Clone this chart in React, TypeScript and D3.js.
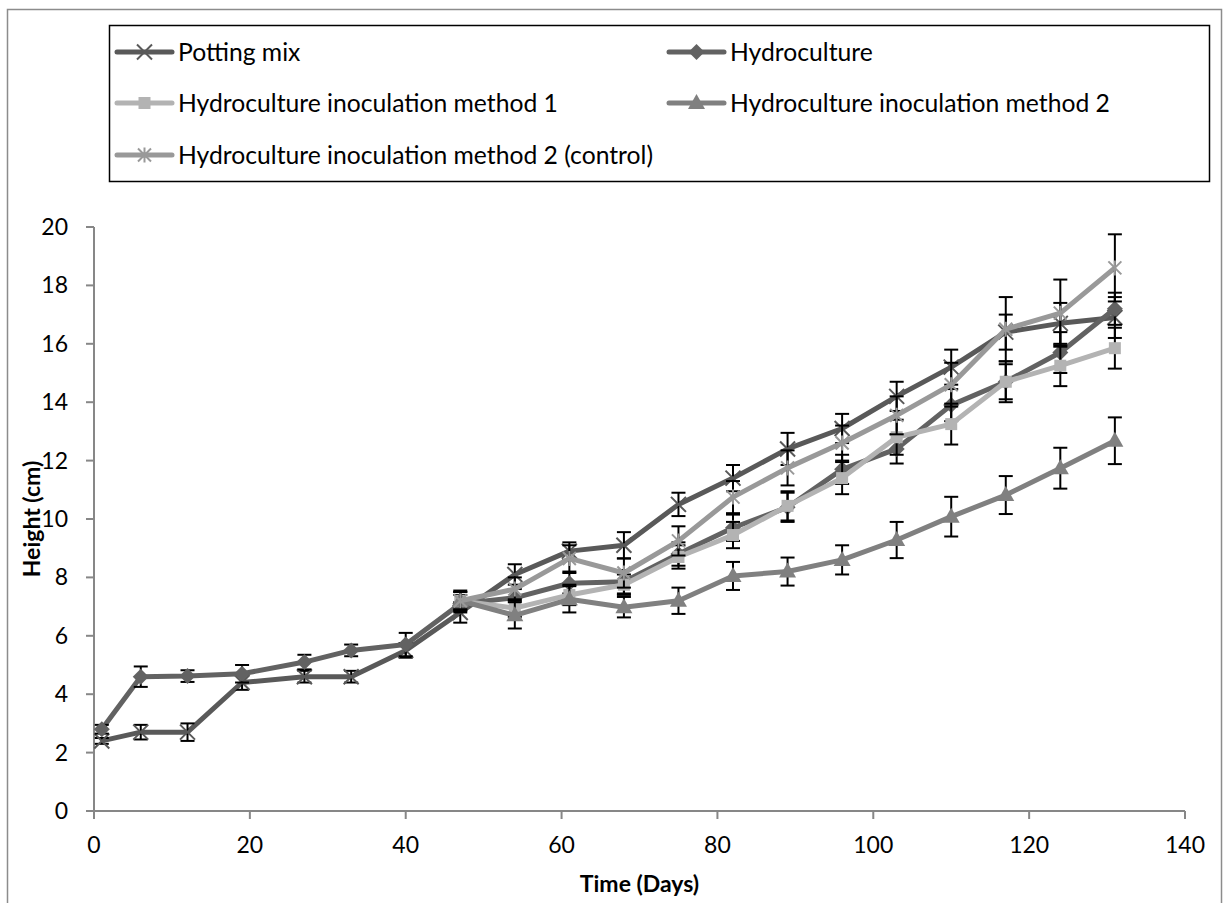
import React from "react";
import * as d3 from "d3";

const daysAll = [1, 6, 12, 19, 27, 33, 40, 47, 54, 61, 68, 75, 82, 89, 96, 103, 110, 117, 124, 131];
const daysLate = [47, 54, 61, 68, 75, 82, 89, 96, 103, 110, 117, 124, 131];

const pottingMix = [2.4, 2.7, 2.7, 4.4, 4.6, 4.6, 5.5, 6.8, 8.1, 8.9, 9.1, 10.5, 11.4, 12.4, 13.1, 14.2, 15.2, 16.4, 16.7, 16.9];
const pottingMixErr = [0.1, 0.25, 0.3, 0.25, 0.2, 0.2, 0.25, 0.35, 0.35, 0.3, 0.45, 0.4, 0.45, 0.55, 0.5, 0.5, 0.6, 0.6, 0.7, 0.7];

const hydroculture = [2.8, 4.6, 4.62, 4.7, 5.1, 5.5, 5.7, 7.1, 7.3, 7.8, 7.85, 8.8, 9.7, 10.4, 11.7, 12.4, 13.9, 14.7, 15.7, 17.2];
const hydrocultureErr = [0.15, 0.35, 0.2, 0.3, 0.25, 0.2, 0.4, 0.3, 0.3, 0.35, 0.4, 0.4, 0.45, 0.5, 0.5, 0.5, 0.55, 0.6, 0.7, 0.55];

const method1 = [7.2, 6.95, 7.4, 7.75, 8.7, 9.45, 10.45, 11.4, 12.8, 13.25, 14.7, 15.25, 15.85];
const method1Err = [0.3, 0.3, 0.35, 0.35, 0.4, 0.45, 0.5, 0.55, 0.6, 0.7, 0.7, 0.7, 0.7];

const method2 = [7.2, 6.7, 7.25, 6.98, 7.2, 8.05, 8.2, 8.6, 9.28, 10.08, 10.82, 11.74, 12.68];
const method2Err = [0.3, 0.45, 0.45, 0.35, 0.45, 0.48, 0.48, 0.5, 0.62, 0.68, 0.65, 0.7, 0.8];

const control = [7.2, 7.6, 8.65, 8.15, 9.25, 10.75, 11.75, 12.6, 13.55, 14.6, 16.5, 17.05, 18.6];
const controlErr = [0.35, 0.4, 0.45, 0.5, 0.5, 0.55, 0.6, 0.6, 0.65, 0.75, 1.1, 1.15, 1.15];

const xTicks = [0, 20, 40, 60, 80, 100, 120, 140];
const yTicks = [0, 2, 4, 6, 8, 10, 12, 14, 16, 18, 20];

const seriesNames = [
  "Potting mix",
  "Hydroculture",
  "Hydroculture inoculation method 1",
  "Hydroculture inoculation method 2",
  "Hydroculture inoculation method 2 (control)",
];

type Marker = "x" | "diamond" | "square" | "triangle" | "star";

const series = [
  { name: seriesNames[0], days: daysAll, values: pottingMix, err: pottingMixErr, color: "#595959", marker: "x" as Marker },
  { name: seriesNames[1], days: daysAll, values: hydroculture, err: hydrocultureErr, color: "#626262", marker: "diamond" as Marker },
  { name: seriesNames[2], days: daysLate, values: method1, err: method1Err, color: "#b3b3b3", marker: "square" as Marker },
  { name: seriesNames[3], days: daysLate, values: method2, err: method2Err, color: "#808080", marker: "triangle" as Marker },
  { name: seriesNames[4], days: daysLate, values: control, err: controlErr, color: "#999999", marker: "star" as Marker },
];

const FONT = "Lato, Carlito, 'Liberation Sans', sans-serif";

function MarkerShape({ type, color, x, y }: { type: Marker; color: string; x: number; y: number }) {
  const t = `translate(${x},${y})`;
  if (type === "x") {
    return <path transform={t} d="M-7.5,-7.5L7.5,7.5M-7.5,7.5L7.5,-7.5" stroke={color} strokeWidth={2} fill="none" />;
  }
  if (type === "star") {
    return <path transform={t} d="M-6.5,-6.5L6.5,6.5M-6.5,6.5L6.5,-6.5M0,-7.5L0,7.5" stroke={color} strokeWidth={2} fill="none" />;
  }
  if (type === "diamond") {
    return <path transform={t} d="M0,-8L8,0L0,8L-8,0Z" fill={color} />;
  }
  if (type === "square") {
    return <rect x={x - 6} y={y - 6} width={12} height={12} fill={color} />;
  }
  return <path transform={t} d="M0,-9L8.5,6L-8.5,6Z" fill={color} />;
}

export default function App() {
  const x = d3.scaleLinear().domain([0, 140]).range([94, 1185]);
  const y = d3.scaleLinear().domain([0, 20]).range([811, 227]);
  const line = d3
    .line<[number, number]>()
    .x((d) => x(d[0]))
    .y((d) => y(d[1]));

  const legendItems = [
    { s: series[0], lx: 117, ly: 52 },
    { s: series[1], lx: 669, ly: 52 },
    { s: series[2], lx: 117, ly: 103 },
    { s: series[3], lx: 669, ly: 103 },
    { s: series[4], lx: 117, ly: 155 },
  ];

  return (
    <svg width={1229} height={903} style={{ position: "absolute", left: 0, top: 0, background: "#fff" }} fontFamily={FONT}>
      <rect x={0} y={0} width={1229} height={903} fill="#fff" />
      <rect x={7.5} y={9.5} width={1214} height={920} fill="none" stroke="#8c8c8c" strokeWidth={1.5} />

      {/* legend */}
      <rect x={109.5} y={25.5} width={1100} height={156} fill="none" stroke="#000" strokeWidth={1.5} />
      {legendItems.map(({ s, lx, ly }, i) => (
        <g key={i}>
          <line x1={lx} x2={lx + 55} y1={ly} y2={ly} stroke={s.color} strokeWidth={5} strokeLinecap="round" />
          <MarkerShape type={s.marker} color={s.color} x={lx + 27.5} y={ly} />
          <text x={lx + 61} y={ly + 8.5} fontSize={24.7} fill="#000">
            {s.name}
          </text>
        </g>
      ))}

      {/* axes */}
      <line x1={x(0)} x2={x(0)} y1={y(0)} y2={y(20)} stroke="#878787" strokeWidth={2} />
      <line x1={x(0)} x2={x(140)} y1={y(0)} y2={y(0)} stroke="#878787" strokeWidth={2} />
      {yTicks.map((t) => (
        <g key={"y" + t}>
          <line x1={x(0) - 8} x2={x(0)} y1={y(t)} y2={y(t)} stroke="#878787" strokeWidth={2} />
          <text x={68} y={y(t) + 8} fontSize={23} textAnchor="end" fill="#000">
            {t}
          </text>
        </g>
      ))}
      {xTicks.map((t) => (
        <g key={"x" + t}>
          <line x1={x(t)} x2={x(t)} y1={y(0)} y2={y(0) + 8} stroke="#878787" strokeWidth={2} />
          <text x={x(t)} y={853} fontSize={23} textAnchor="middle" fill="#000">
            {t}
          </text>
        </g>
      ))}
      <text x={(x(0) + x(140)) / 2} y={892} fontSize={23} fontWeight="bold" textAnchor="middle" fill="#000">
        Time (Days)
      </text>
      <text
        transform={`translate(40,${(y(0) + y(20)) / 2}) rotate(-90)`}
        fontSize={23}
        fontWeight="bold"
        textAnchor="middle"
        fill="#000"
      >
        Height (cm)
      </text>

      {/* series */}
      {series.map((s, si) => {
        const pts = s.days.map((d, i) => [d, s.values[i]] as [number, number]);
        return (
          <g key={si}>
            <path d={line(pts) || ""} fill="none" stroke={s.color} strokeWidth={5} strokeLinejoin="round" />
            {pts.map((p, i) => {
              const cx = x(p[0]);
              const top = y(p[1] + s.err[i]);
              const bot = y(p[1] - s.err[i]);
              return (
                <g key={i} stroke="#000" strokeWidth={2}>
                  <line x1={cx} x2={cx} y1={top} y2={bot} />
                  <line x1={cx - 7} x2={cx + 7} y1={top} y2={top} />
                  <line x1={cx - 7} x2={cx + 7} y1={bot} y2={bot} />
                </g>
              );
            })}
            {pts.map((p, i) => (
              <MarkerShape key={"m" + i} type={s.marker} color={s.color} x={x(p[0])} y={y(p[1])} />
            ))}
          </g>
        );
      })}
    </svg>
  );
}
